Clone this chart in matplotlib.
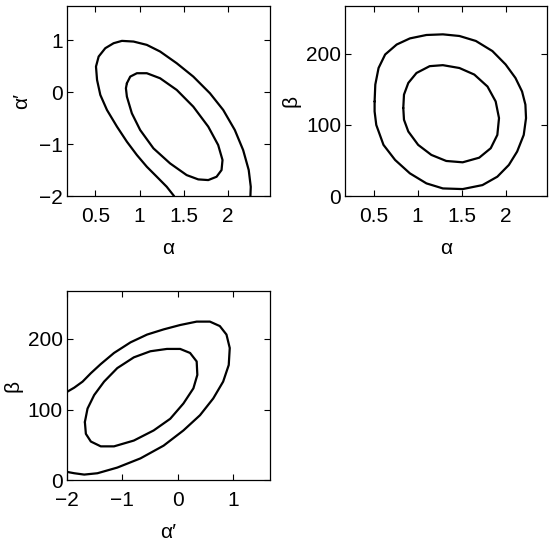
import matplotlib
matplotlib.use('Agg')
import matplotlib.pyplot as plt

plt.rcParams['font.family'] = ['Liberation Sans Narrow', 'Liberation Sans', 'DejaVu Sans']
plt.rcParams['lines.solid_capstyle'] = 'round'
plt.rcParams['lines.solid_joinstyle'] = 'round'

# contour lines
# panel 1: alpha vs alpha'
a1_outer = [1.389, 1.306, 1.194, 1.081, 0.969, 0.856, 0.744, 0.631, 0.556, 0.519,
            0.507, 0.537, 0.612, 0.706, 0.8, 0.931, 1.081, 1.231, 1.419, 1.606,
            1.794, 1.944, 2.075, 2.169, 2.232, 2.255, 2.251]
ap1_outer = [-2.0, -1.82, -1.627, -1.434, -1.209, -0.952, -0.662, -0.341, -0.051, 0.238,
             0.495, 0.688, 0.849, 0.945, 0.99, 0.977, 0.913, 0.785, 0.559, 0.302,
             -0.019, -0.341, -0.727, -1.113, -1.498, -1.82, -2.0]
a1_inner = [0.856, 0.894, 0.969, 1.081, 1.231, 1.419, 1.606, 1.775, 1.887, 1.936,
            1.925, 1.869, 1.775, 1.662, 1.531, 1.344, 1.156, 1.006, 0.912, 0.856,
            0.845, 0.856]
ap1_inner = [0.174, 0.302, 0.367, 0.367, 0.27, 0.045, -0.277, -0.662, -1.016, -1.305,
             -1.498, -1.627, -1.691, -1.678, -1.595, -1.37, -1.08, -0.727, -0.405, -0.084,
             0.077, 0.174]

# panel 2: alpha vs beta
a2_outer = [0.511, 0.519, 0.556, 0.631, 0.762, 0.912, 1.1, 1.287, 1.475, 1.662,
            1.85, 2.0, 2.112, 2.187, 2.225, 2.232, 2.206, 2.131, 2.037, 1.906,
            1.737, 1.512, 1.287, 1.1, 0.912, 0.744, 0.612, 0.53, 0.511, 0.511]
b2_outer = [133, 156.7, 180, 199, 213, 221.6, 226.4, 227.3, 225, 218,
            203.8, 185, 166, 147, 128.5, 109.6, 86, 62.6, 43.8, 27.3,
            15.5, 9.9, 10.8, 17.9, 32, 50.8, 72, 100, 119, 133]
a2_inner = [0.837, 0.845, 0.894, 0.987, 1.137, 1.287, 1.475, 1.644, 1.794, 1.887,
            1.925, 1.906, 1.831, 1.7, 1.512, 1.325, 1.156, 1.006, 0.894, 0.845, 0.837]
b2_inner = [123.8, 142.6, 159, 173, 182.6, 184, 180, 170.8, 154, 133,
            109.6, 86, 67.3, 54, 47.5, 49.4, 57.9, 72, 90.8, 107.3, 123.8]

# panel 3: alpha' vs beta
ap3_outer = [-2.0, -1.869, -1.719, -1.57, -1.391, -1.152, -0.854, -0.555, -0.257, 0.042,
             0.34, 0.579, 0.758, 0.878, 0.937, 0.919, 0.818, 0.639, 0.4, 0.101,
             -0.257, -0.675, -1.093, -1.451, -1.69, -1.869, -2.0]
b3_outer = [125, 131, 139.5, 151.4, 164.3, 180, 195, 206, 213.3, 219.5,
            224.3, 224.3, 218, 206, 187, 163, 139.5, 115.7, 92, 70.5,
            49, 31, 18, 10, 8.1, 10, 11.9]
ap3_inner = [-1.678, -1.63, -1.51, -1.331, -1.093, -0.794, -0.496, -0.197, 0.042, 0.221,
             0.34, 0.352, 0.281, 0.101, -0.137, -0.436, -0.794, -1.152, -1.391, -1.57,
             -1.66, -1.678]
b3_inner = [82.4, 101.4, 120.5, 139.5, 158.6, 173.8, 182.4, 185.7, 185.7, 180,
            168, 149, 130, 108.6, 87, 70.5, 56.2, 48, 48, 54.8,
            65.7, 82.4]

alpha_lim = (0.18, 2.47)
alphap_lim = (-2.0, 1.66)
beta_lim = (0, 267)
alpha_ticks = [0.5, 1, 1.5, 2]
alphap_ticks = [-2, -1, 0, 1]
beta_ticks = [0, 100, 200]

lbl_a = '\u03b1'
lbl_ap = '\u03b1\u2032'
lbl_b = '\u03b2'

fig = plt.figure(figsize=(5.54, 5.54), dpi=100)
ax1 = fig.add_axes([0.121, 0.646, 0.366, 0.343])
ax2 = fig.add_axes([0.6236, 0.646, 0.3637, 0.343])
ax3 = fig.add_axes([0.121, 0.133, 0.366, 0.341])

def style(ax, xt, yt, xl, yl, xlab, ylab):
    ax.set_xlim(xl)
    ax.set_ylim(yl)
    ax.set_xticks(xt)
    ax.set_yticks(yt)
    ax.set_xticklabels([('%g' % v).replace('-', '\u2212') for v in xt])
    ax.set_yticklabels([('%g' % v).replace('-', '\u2212') for v in yt])
    ax.tick_params(direction='in', top=True, right=True, length=4, width=0.8,
                   labelsize=15)
    ax.tick_params(axis='x', pad=8)
    ax.tick_params(axis='y', pad=3)
    for s in ax.spines.values():
        s.set_linewidth(0.9)
    ax.set_xlabel(xlab, fontsize=15, labelpad=9)
    ax.set_ylabel(ylab, fontsize=15, labelpad=4)

ax1.plot(a1_outer, ap1_outer, 'k-', lw=1.6)
ax1.plot(a1_inner, ap1_inner, 'k-', lw=1.6)
style(ax1, alpha_ticks, alphap_ticks, alpha_lim, alphap_lim, lbl_a, lbl_ap)
ax1.yaxis.labelpad = 6

ax2.plot(a2_outer, b2_outer, 'k-', lw=1.6)
ax2.plot(a2_inner, b2_inner, 'k-', lw=1.6)
style(ax2, alpha_ticks, beta_ticks, alpha_lim, beta_lim, lbl_a, lbl_b)

ax3.plot(ap3_outer, b3_outer, 'k-', lw=1.6)
ax3.plot(ap3_inner, b3_inner, 'k-', lw=1.6)
style(ax3, alphap_ticks, beta_ticks, alphap_lim, beta_lim, lbl_ap, lbl_b)

plt.savefig('out.png', dpi=100)
